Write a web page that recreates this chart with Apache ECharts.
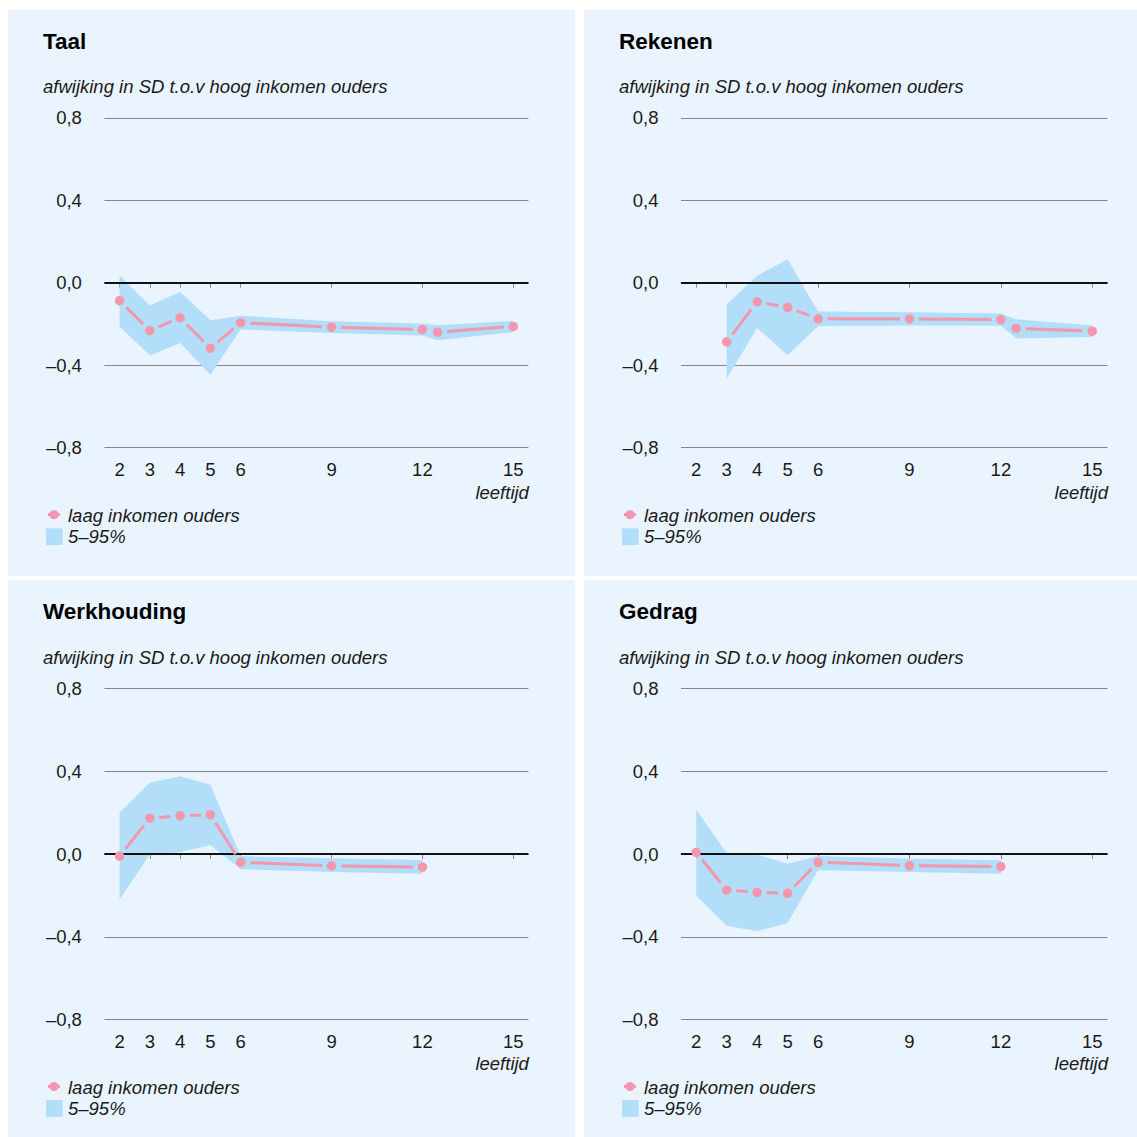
<!DOCTYPE html>
<html><head><meta charset="utf-8">
<script src="https://cdn.jsdelivr.net/npm/echarts@6/dist/echarts.min.js"></script>
<style>html,body{margin:0;padding:0;background:#fff}#c{width:1137px;height:1137px}</style>
</head><body><div id="c"></div>
<script>
// ---------- data ----------
const xTickValues = [2, 3, 4, 5, 6, 9, 12, 15];
const yTickValues = [-0.8, -0.4, 0, 0.4, 0.8];
const yTickLabels = ['–0,8', '–0,4', '0,0', '0,4', '0,8'];
const panelTitles = ['Taal', 'Rekenen', 'Werkhouding', 'Gedrag'];
const yAxisTitle = 'afwijking in SD t.o.v hoog inkomen ouders';
const xAxisTitle = 'leeftijd';
const legendLineLabel = 'laag inkomen ouders';
const legendBandLabel = '5–95%';

const taalAges = [2, 3, 4, 5, 6, 9, 12, 12.5, 15];
const taalMean = [-0.087, -0.233, -0.170, -0.318, -0.194, -0.216, -0.227, -0.240, -0.212];
const taalLow  = [-0.212, -0.353, -0.292, -0.447, -0.227, -0.244, -0.256, -0.279, -0.240];
const taalHigh = [0.035, -0.111, -0.044, -0.182, -0.160, -0.187, -0.198, -0.207, -0.185];

const rekenenAges = [3, 4, 5, 6, 9, 12, 12.5, 15];
const rekenenMean = [-0.287, -0.093, -0.120, -0.175, -0.176, -0.179, -0.222, -0.235];
const rekenenLow  = [-0.466, -0.220, -0.352, -0.210, -0.208, -0.209, -0.271, -0.264];
const rekenenHigh = [-0.104, 0.034, 0.114, -0.140, -0.143, -0.149, -0.177, -0.208];

const werkAges = [2, 3, 4, 5, 6, 9, 12];
const werkMean = [-0.010, 0.173, 0.185, 0.190, -0.040, -0.057, -0.063];
const werkLow  = [-0.220, -0.003, 0.008, 0.044, -0.074, -0.087, -0.096];
const werkHigh = [0.201, 0.345, 0.376, 0.335, -0.010, -0.021, -0.029];

const gedragAges = [2, 3, 4, 5, 6, 9, 12];
const gedragMean = [0.008, -0.175, -0.185, -0.190, -0.040, -0.056, -0.061];
const gedragLow  = [-0.201, -0.347, -0.374, -0.334, -0.078, -0.087, -0.096];
const gedragHigh = [0.214, 0.005, -0.003, -0.047, -0.010, -0.022, -0.030];

// ---------- styling / layout ----------
const PINK = '#F297AC';
const BAND = '#B3DEFA';
const PANEL_BG = '#EAF4FE';
const GRIDC = '#858585';
const TXT = '#1a1a1a';
const FONT = '"Liberation Sans", Arial, Helvetica, sans-serif';
const FS = 18.5;

const panelsData = [
  {ages: taalAges, mean: taalMean, low: taalLow, high: taalHigh},
  {ages: rekenenAges, mean: rekenenMean, low: rekenenLow, high: rekenenHigh},
  {ages: werkAges, mean: werkMean, low: werkLow, high: werkHigh},
  {ages: gedragAges, mean: gedragMean, low: gedragLow, high: gedragHigh}
];
const panelRects = [
  {x: 8, y: 10, w: 567, h: 566},
  {x: 584, y: 10, w: 553, h: 566},
  {x: 8, y: 580, w: 567, h: 557},
  {x: 584, y: 580, w: 553, h: 557}
];
const gridRects = [
  {left: 104.4, top: 117.8, width: 424, height: 329.8},
  {left: 681, top: 117.8, width: 426.5, height: 329.8},
  {left: 104.4, top: 688.5, width: 424, height: 331},
  {left: 681, top: 688.5, width: 426.5, height: 331}
];

const grid = [], xAxis = [], yAxis = [], series = [], graphic = [];

function segRender(params, api) {
  const p1 = api.coord([api.value(0), api.value(1)]);
  const p2 = api.coord([api.value(2), api.value(3)]);
  const dx = p2[0] - p1[0], dy = p2[1] - p1[1];
  const len = Math.hypot(dx, dy);
  const gap = 9.5;
  if (len <= 2 * gap) return null;
  const ux = dx / len, uy = dy / len;
  return {
    type: 'line',
    shape: {x1: p1[0] + ux * gap, y1: p1[1] + uy * gap, x2: p2[0] - ux * gap, y2: p2[1] - uy * gap},
    style: {stroke: PINK, lineWidth: 3, lineCap: 'butt'}
  };
}

// band polygon: drawn once (on first item) from all rows [age, low, high]
function bandRender(params, api) {
  if (params.dataIndexInside !== 0) return null;
  const n = params.dataInsideLength;
  const pts = [];
  for (let j = 0; j < n; j++) pts.push(api.coord([api.value(0, j), api.value(2, j)]));
  for (let j = n - 1; j >= 0; j--) pts.push(api.coord([api.value(0, j), api.value(1, j)]));
  return {type: 'polygon', shape: {points: pts}, style: {fill: BAND}};
}

panelRects.forEach((r) => {
  graphic.push({type: 'rect', z: -10, shape: {x: r.x, y: r.y, width: r.w, height: r.h}, style: {fill: PANEL_BG}, silent: true});
});

panelsData.forEach((p, i) => {
  const g = gridRects[i];
  const r = panelRects[i];
  grid.push({left: g.left, top: g.top, width: g.width, height: g.height, containLabel: false});
  xAxis.push({
    type: 'value', gridIndex: i, min: 1.5, max: 15.5, interval: 0.5,
    axisLine: {show: true, lineStyle: {color: GRIDC, width: 1}},
    axisTick: {show: true, customValues: xTickValues, length: 5, lineStyle: {color: GRIDC, width: 1}},
    axisLabel: {show: true, customValues: xTickValues, margin: 22, verticalAlign: 'middle',
      fontFamily: FONT, fontSize: FS, color: TXT, formatter: v => String(v)},
    splitLine: {show: false}
  });
  yAxis.push({
    type: 'value', gridIndex: i, min: -0.8, max: 0.8, interval: 0.4,
    axisLine: {show: false}, axisTick: {show: false},
    axisLabel: {margin: 22.5, fontFamily: FONT, fontSize: FS, color: TXT,
      formatter: v => { const k = yTickValues.findIndex(t => Math.abs(t - v) < 1e-6); return k >= 0 ? yTickLabels[k] : ''; }},
    splitLine: {show: true, lineStyle: {color: GRIDC, width: 1}}
  });
  series.push({
    type: 'custom', xAxisIndex: i, yAxisIndex: i,
    data: p.ages.map((a, k) => [a, p.low[k], p.high[k]]),
    encode: {x: 0, y: [1, 2]}, renderItem: bandRender, silent: true, z: 1, animation: false,
    markLine: {silent: true, symbol: 'none', animation: false, label: {show: false},
      lineStyle: {color: '#111', width: 2, type: 'solid'}, data: [{yAxis: 0}]}
  });
  const segs = [];
  for (let k = 0; k < p.ages.length - 1; k++) segs.push([p.ages[k], p.mean[k], p.ages[k + 1], p.mean[k + 1]]);
  series.push({
    type: 'custom', xAxisIndex: i, yAxisIndex: i, data: segs,
    encode: {x: [0, 2], y: [1, 3]}, renderItem: segRender, silent: true, z: 6, animation: false
  });
  series.push({
    type: 'scatter', xAxisIndex: i, yAxisIndex: i,
    data: p.ages.map((a, k) => [a, p.mean[k]]),
    symbol: 'circle', symbolSize: 9.5, itemStyle: {color: PINK, opacity: 1}, silent: true, z: 7, animation: false
  });

  // texts
  const tx = r.x + 35;
  graphic.push({type: 'text', z: 10, x: tx, y: g.top - 76.7, style: {text: panelTitles[i], fontFamily: FONT, fontSize: 22.5, fontWeight: 'bold', fill: '#000', verticalAlign: 'middle', align: 'left'}});
  graphic.push({type: 'text', z: 10, x: tx, y: g.top - 31.3, style: {text: yAxisTitle, fontFamily: FONT, fontSize: FS, fontStyle: 'italic', fill: TXT, verticalAlign: 'middle', align: 'left'}});
  const gb = g.top + g.height;
  graphic.push({type: 'text', z: 10, x: g.left + g.width + 0.5, y: gb + 44.4, style: {text: xAxisTitle, fontFamily: FONT, fontSize: FS, fontStyle: 'italic', fill: TXT, verticalAlign: 'middle', align: 'right'}});
  // legend
  const mx = r.x + 46;
  graphic.push({type: 'line', z: 10, shape: {x1: mx - 6, y1: gb + 67, x2: mx + 6, y2: gb + 67}, style: {stroke: PINK, lineWidth: 3}});
  graphic.push({type: 'circle', z: 10, shape: {cx: mx, cy: gb + 67, r: 4.6}, style: {fill: PINK}});
  graphic.push({type: 'text', z: 10, x: r.x + 60, y: gb + 67.6, style: {text: legendLineLabel, fontFamily: FONT, fontSize: FS, fontStyle: 'italic', fill: TXT, verticalAlign: 'middle', align: 'left'}});
  graphic.push({type: 'rect', z: 10, shape: {x: r.x + 38, y: gb + 80.7, width: 16.7, height: 16.7}, style: {fill: BAND}});
  graphic.push({type: 'text', z: 10, x: r.x + 60, y: gb + 89.2, style: {text: legendBandLabel, fontFamily: FONT, fontSize: FS, fontStyle: 'italic', fill: TXT, verticalAlign: 'middle', align: 'left'}});
});

const chart = echarts.init(document.getElementById('c'), null, {renderer: 'svg', width: 1137, height: 1137});
chart.setOption({
  backgroundColor: '#ffffff',
  animation: false,
  grid, xAxis, yAxis, series, graphic
});
</script>
</body></html>
